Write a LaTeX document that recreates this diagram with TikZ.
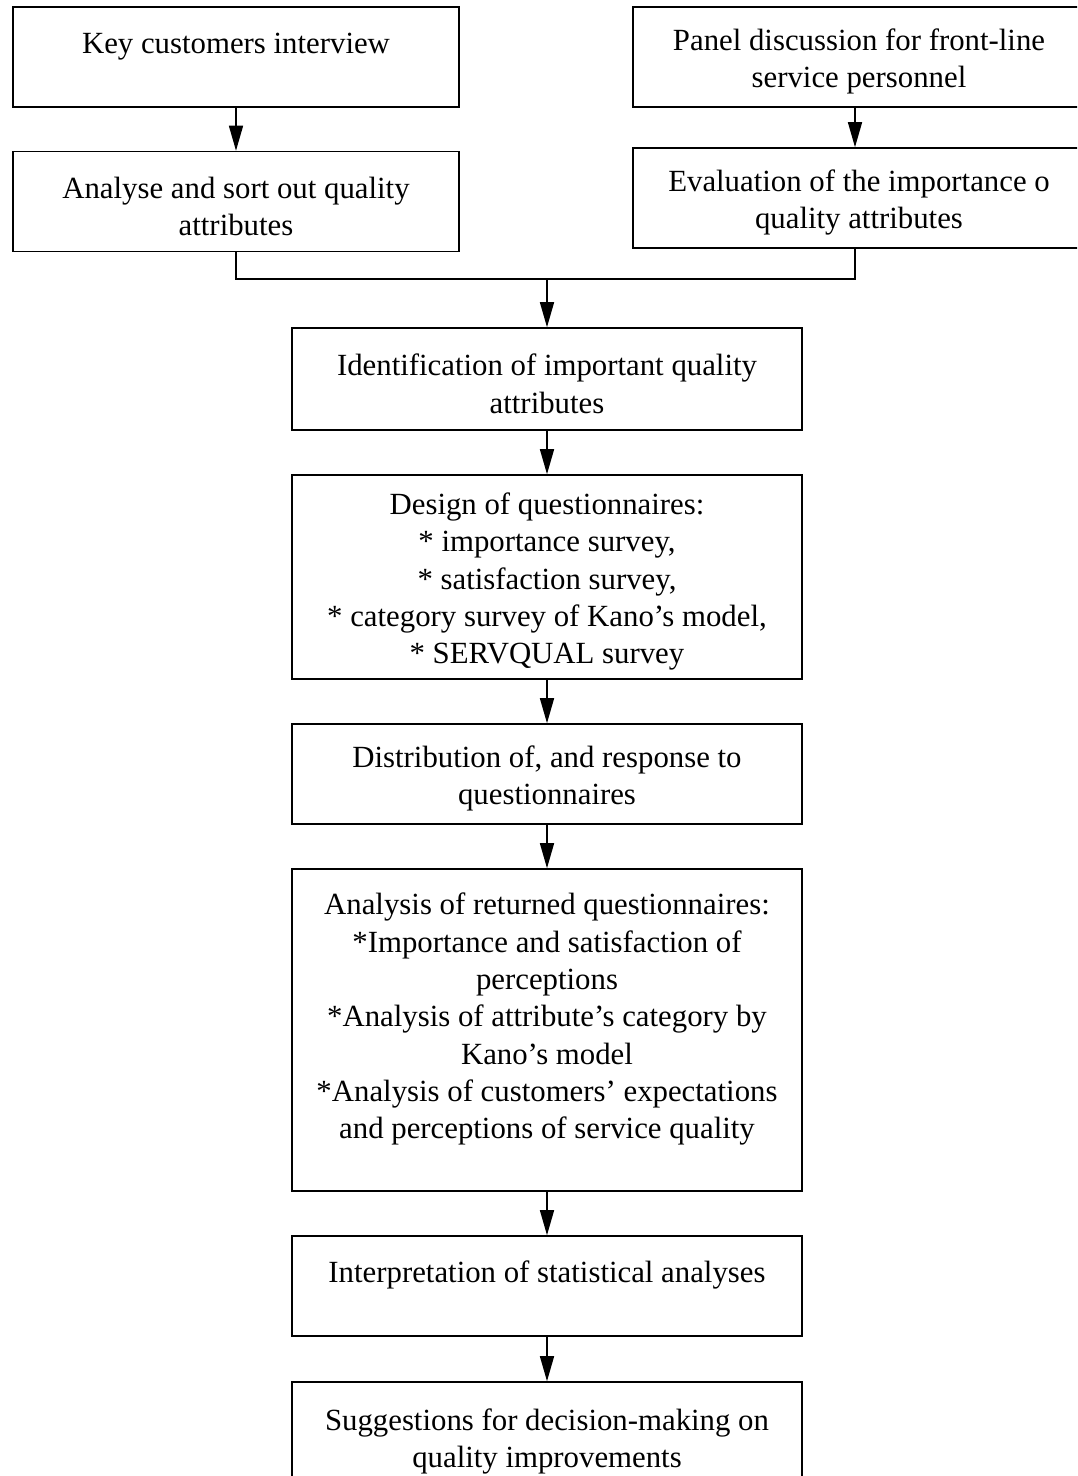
\documentclass[tikz,border=0pt]{standalone}
\usepackage{fontspec}
\setmainfont{Liberation Serif}
\usetikzlibrary{arrows.meta}
\newcommand{\boxstrut}{\rule{0pt}{31pt}}
\begin{document}
\begin{tikzpicture}[
			x=1pt, y=-1pt,
			every node/.style={font=\fontsize{30.8}{37.3}\selectfont},
			box/.style={draw, line width=1.6pt, align=center, inner sep=0pt, minimum width=510pt, minimum height=100pt},
			side/.style={box, minimum width=452pt},
			flow/.style={-{Triangle[width=14pt,length=25pt]}, line width=1.5pt}
			]
			\useasboundingbox (0,0) rectangle (1077,1476);
			\clip (0,0) rectangle (1077,1476);
			
			% Sources
			\node (interview) [side, minimum width=446pt] at (236,57) {\boxstrut Key customers interview\\\mbox{}};
			\node (panel) [side] at (859,57) {\boxstrut Panel discussion for front-line\\service personnel};
			\node (analyse) [side, minimum width=446pt] at (236,201.5) {\boxstrut Analyse and sort out quality\\attributes};
			\node (evaluation) [side] at (859,198) {\boxstrut Evaluation of the importance o\\quality attributes};
			\draw[flow] (interview.south) -- (analyse.north);
			\draw[flow] (panel.south -| 855,0) -- (evaluation.north -| 855,0);
			
			% Merge
			\coordinate (merge) at (547,279);
			\draw[line width=1.5pt] (analyse.south) |- (merge) -| (evaluation.south -| 855,0);
			
			% Main flow
			\node (ident) [box, minimum height=102pt] at (547,379) {\boxstrut Identification of important quality\\attributes};
			\node (design) [box, minimum height=204pt] at (547,577) {\boxstrut Design of questionnaires:\\* importance survey,\\* satisfaction survey,\\* category survey of Kano’s model,\\* SERVQUAL survey};
			\node (distrib) [box] at (547,774) {\boxstrut Distribution of, and response to\\questionnaires};
			\node (returned) [box, minimum height=322pt] at (547,1030) {\boxstrut Analysis of returned questionnaires:\\*Importance and satisfaction of\\perceptions\\*Analysis of attribute’s category by\\Kano’s model\\*Analysis of customers’ expectations\\and perceptions of service quality\\\mbox{}};
			\node (interp) [box] at (547,1286) {\boxstrut Interpretation of statistical analyses\\\mbox{}};
			\node (suggest) [box, minimum height=110pt] at (547,1437) {\boxstrut Suggestions for decision-making on\\quality improvements};
			\draw[flow] (merge) -- (ident.north);
			\draw[flow] (ident.south) -- (design.north);
			\draw[flow] (design.south) -- (distrib.north);
			\draw[flow] (distrib.south) -- (returned.north);
			\draw[flow] (returned.south) -- (interp.north);
			\draw[flow] (interp.south) -- (suggest.north);
		\end{tikzpicture}
\end{document}
